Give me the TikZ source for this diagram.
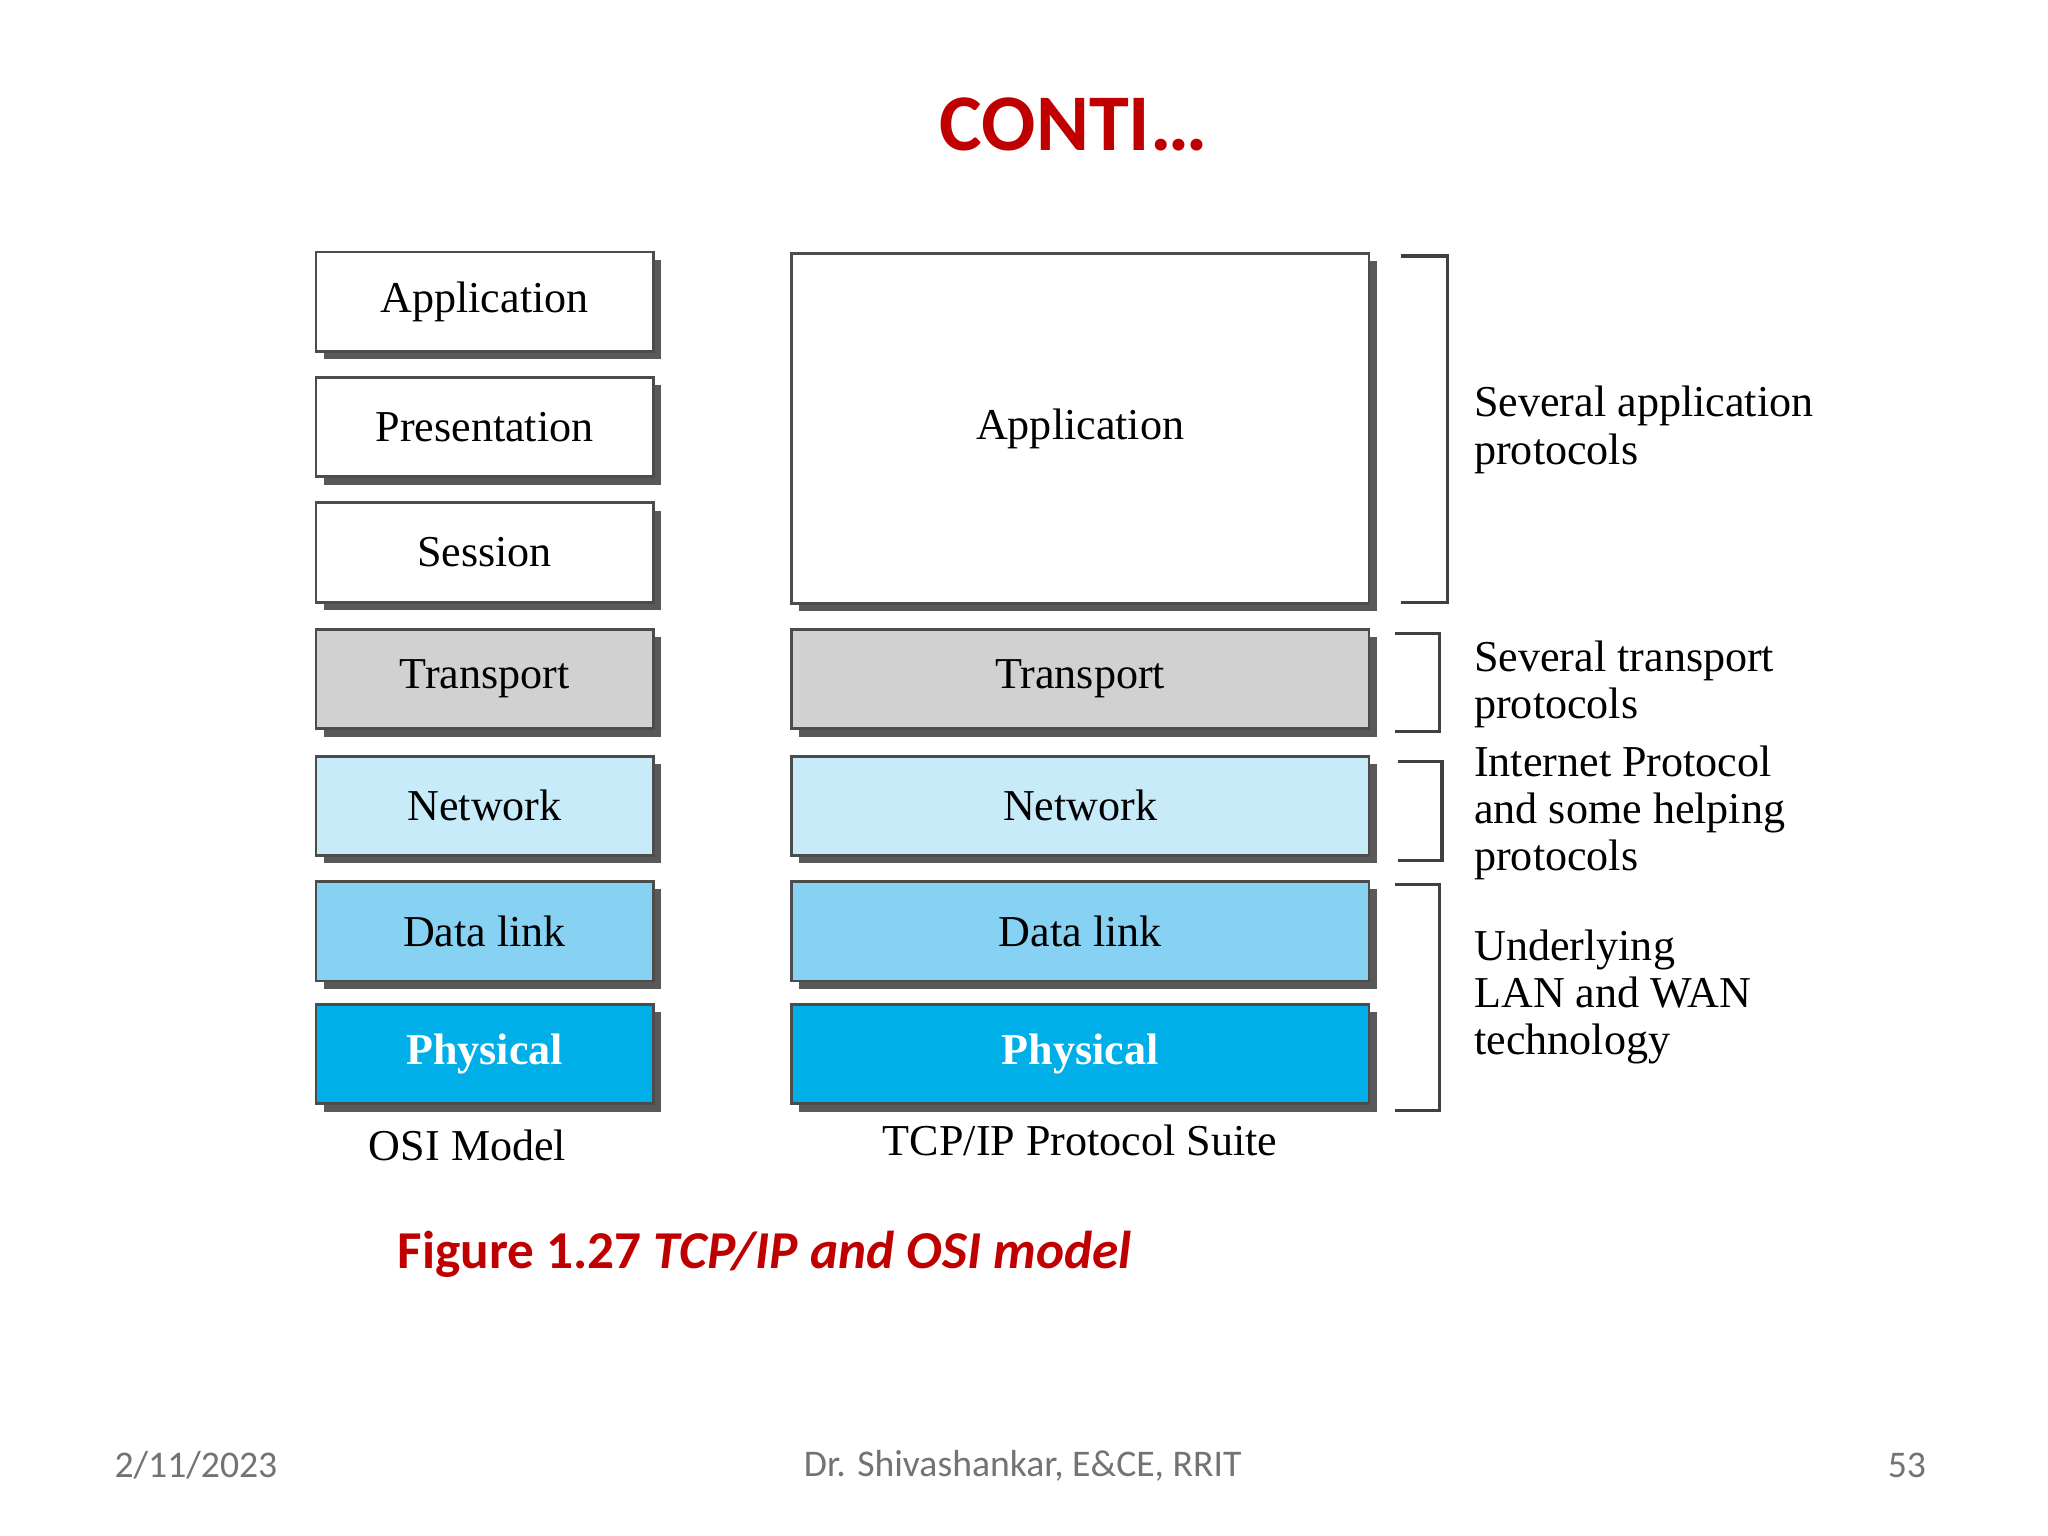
\documentclass[tikz,border=0pt]{standalone}
\usepackage{fontspec}
\setmainfont{Liberation Serif}
\newfontfamily\slidefont{Carlito}
\usetikzlibrary{shadows,positioning}
\definecolor{netblue}{RGB}{200,235,250}
\definecolor{linkblue}{RGB}{135,210,242}
\definecolor{physblue}{RGB}{0,174,232}
\definecolor{slidered}{RGB}{192,0,0}

\begin{document}
\begin{tikzpicture}[
  x=0.01cm, y=-0.01cm,
  layer/.style={rectangle, draw=black!70, line width=0.6pt, fill=white,
                inner sep=0pt, text centered,
                font=\fontsize{9.6}{11}\selectfont,
                drop shadow={shadow xshift=0.06cm, shadow yshift=-0.06cm,
                             fill=black!65, opacity=1}},
  osi/.style={layer, minimum width=2.58cm, minimum height=0.76cm},
  tcp/.style={layer, minimum width=4.42cm, minimum height=0.76cm},
  trans/.style={fill=black!18},
  net/.style={fill=netblue},
  link/.style={fill=linkblue},
  phys/.style={fill=physblue, text=white, font=\fontsize{9.6}{11}\selectfont\bfseries},
  brace/.style={draw=black!75, line width=0.7pt},
  note/.style={anchor=north west, align=left, inner sep=0pt, font=\fontsize{9.6}{10.3}\selectfont},
  foot/.style={text=black!55, font=\slidefont\fontsize{8.2}{10}\selectfont}
]
\useasboundingbox (0,0) rectangle (1568,1176);

% --- Title ---
\node[text=slidered, font=\slidefont\fontsize{17.5}{21}\selectfont\bfseries]
  (title) at (822,95) {CONTI…};

% --- OSI stack ---
\node[osi]        (oApp)   at (371,231) {Application};
\node[osi]        (oPres)  at (371,327) {Presentation};
\node[osi]        (oSess)  at (371,423) {Session};
\node[osi, trans] (oTrans) at (371,520) {Transport};
\node[osi, net]   (oNet)   at (371,617) {Network};
\node[osi, link]  (oLink)  at (371,713) {Data link};
\node[osi, phys]  (oPhys)  at (371,807) {Physical};
\node[font=\fontsize{9.6}{11}\selectfont] (oCap) at (358,877) {OSI Model};

% --- TCP/IP stack ---
\node[tcp, minimum height=2.68cm] (tApp) at (827,328) {Application};
\node[tcp, trans] (tTrans) at (827,520) {Transport};
\node[tcp, net]   (tNet)   at (827,617) {Network};
\node[tcp, link]  (tLink)  at (827,713) {Data link};
\node[tcp, phys]  (tPhys)  at (827,807) {Physical};
\node[font=\fontsize{9.6}{11}\selectfont] (tCap) at (827,873) {TCP/IP Protocol Suite};

% --- Brackets ---
\coordinate (b1) at (1073,196); \coordinate (b1e) at (1073,461);
\coordinate (b2) at (1068,485); \coordinate (b2e) at (1068,560);
\coordinate (b3) at (1070,583); \coordinate (b3e) at (1070,659);
\coordinate (b4) at (1068,677); \coordinate (b4e) at (1068,850);
\draw[brace] (b1) -- ++(35,0) |- (b1e);
\draw[brace] (b2) -- ++(34,0) |- (b2e);
\draw[brace] (b3) -- ++(34,0) |- (b3e);
\draw[brace] (b4) -- ++(34,0) |- (b4e);

% --- Notes ---
\node[note] (n1) at (1128,295) {Several application\\protocols};
\node[note] (n2) at (1128,490) {Several transport\\protocols};
\node[note] (n3) at (1128,570) {Internet Protocol\\and some helping\\protocols};
\node[note] (n4) at (1128,711) {Underlying\\LAN and WAN\\technology};

% --- Caption and footer ---
\node[anchor=west, inner sep=0pt, text=slidered,
      font=\slidefont\fontsize{11.6}{14}\selectfont\bfseries]
  (fig) at (304,960) {Figure 1.27 \textit{TCP/IP and OSI model}};
\node[foot] (date) at (150,1122) {2/11/2023};
\node[foot] (auth) at (783,1122) {Dr. Shivashankar, E\&CE, RRIT};
\node[foot] (page) at (1460,1122) {53};
\end{tikzpicture}
\end{document}
